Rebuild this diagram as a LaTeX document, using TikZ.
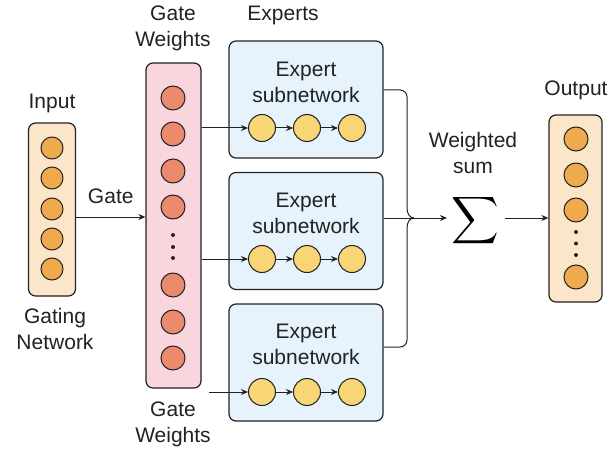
\documentclass[tikz,border=0pt]{standalone}
\usepackage{fontspec}
\setmainfont{Liberation Sans}
\usepackage{graphicx}
\usetikzlibrary{arrows.meta}
\definecolor{peach}{HTML}{FCE6C9}
\definecolor{orangec}{HTML}{F0AA4E}
\definecolor{pinkbox}{HTML}{F9D5DE}
\definecolor{salmon}{HTML}{EC8A6E}
\definecolor{bluebox}{HTML}{E6F2FC}
\definecolor{yellowc}{HTML}{F8D675}
\definecolor{ink}{HTML}{222222}
\begin{document}
\begin{tikzpicture}[x=1pt,y=-1pt,
  lbl/.style={font=\fontsize{21}{26}\selectfont, align=center, text=ink, inner sep=0pt},
  panel/.style={draw=ink, line width=1.2pt, rounded corners=7pt, inner sep=0pt},
  dotc/.style={circle, draw=ink, line width=1pt, inner sep=0pt},
  incirc/.style={dotc, fill=orangec, minimum size=22pt},
  outcirc/.style={dotc, fill=orangec, minimum size=24pt},
  gcirc/.style={dotc, fill=salmon, minimum size=24pt},
  ecirc/.style={dotc, fill=yellowc, minimum size=27pt},
  smalldot/.style={circle, fill=ink, inner sep=0pt, minimum size=4pt},
  arr/.style={draw=ink, line width=1pt, -{Stealth[length=7pt,width=6pt]}},
  ln/.style={draw=ink, line width=1pt}
]
\useasboundingbox[fill=white] (0,0) rectangle (614,452);

% Input
\node[panel, fill=peach, minimum width=47pt, minimum height=173pt] (inbox) at (52,209.5) {};
\foreach \y [count=\i] in {148,178,209,239,269} \node[incirc] (in\i) at (52,\y) {};
\node[lbl] (inlbl) at (52,103) {Input};
\node[lbl] (gatingl) at (55,329) {Gating\\Network};

% Gate weights
\node[panel, fill=pinkbox, minimum width=55pt, minimum height=325pt] (gbox) at (173.5,225.5) {};
\foreach \y [count=\i] in {98,134,171,207,285,322,358} \node[gcirc] (g\i) at (173,\y) {};
\foreach \y [count=\i] in {235,247,258} \node[smalldot] (gd\i) at (173,\y) {};
\node[lbl] (gwtop) at (173,28) {Gate\\Weights};
\node[lbl] (gwbot) at (173,424) {Gate\\Weights};

% Gate arrow
\draw[arr] (inbox.east |- 0,217) -- node[lbl, above=13pt] (gatelbl) {Gate} (gbox.west |- 0,217);

% Experts
\node[lbl] (explbl) at (283,15) {Experts};
\foreach \cy/\ty/\ny [count=\k] in {99.5/82/128, 231/213/259, 362.5/344/392} {
  \node[panel, fill=bluebox, minimum width=154pt, minimum height=117pt] (e\k) at (306,\cy) {};
  \node[lbl] (et\k) at (306,\ty) {Expert\\subnetwork};
  \node[ecirc] (c\k a) at (262,\ny) {};
  \node[ecirc] (c\k b) at (307,\ny) {};
  \node[ecirc] (c\k c) at (352,\ny) {};
  \draw[arr] (c\k a) -- (c\k b);
  \draw[arr] (c\k b) -- (c\k c);
}
\draw[arr] (gbox.east |- c1a) -- (c1a);
\draw[arr] (gbox.east |- c2a) -- (c2a);
\coordinate (s3) at (209,392);
\draw[arr] (s3) -- (c3a);

% Sum
\node[inner sep=0pt, text=black] (sig) at (475,221) {\scalebox{3.3}{$\displaystyle\sum$}};
\node[lbl] (wlbl) at (473,153) {Weighted\\sum};
\coordinate (br) at (414,218);
\draw[ln] (e1.east |- 0,90) -- (400,90) arc[start angle=90, end angle=0, radius=7pt] -- (407,208) .. controls (407,214) and (410,218) .. (br);
\draw[ln] (e3.east |- 0,347) -- (400,347) arc[start angle=-90, end angle=0, radius=7pt] -- (407,228) .. controls (407,222) and (410,218) .. (br);
\coordinate (sigin) at (447,218);
\draw[arr] (e2.east |- sigin) -- (sigin);

% Output
\node[panel, fill=peach, minimum width=53pt, minimum height=187pt] (outbox) at (575.5,208.5) {};
\foreach \y [count=\i] in {139,175,210,277} \node[outcirc] (o\i) at (576,\y) {};
\foreach \y [count=\i] in {232,243.5,255} \node[smalldot] (od\i) at (576,\y) {};
\node[lbl] (outlbl) at (576,90) {Output};
\coordinate (sigout) at (505,218);
\draw[arr] (sigout) -- (outbox.west |- sigout);
\end{tikzpicture}
\end{document}
